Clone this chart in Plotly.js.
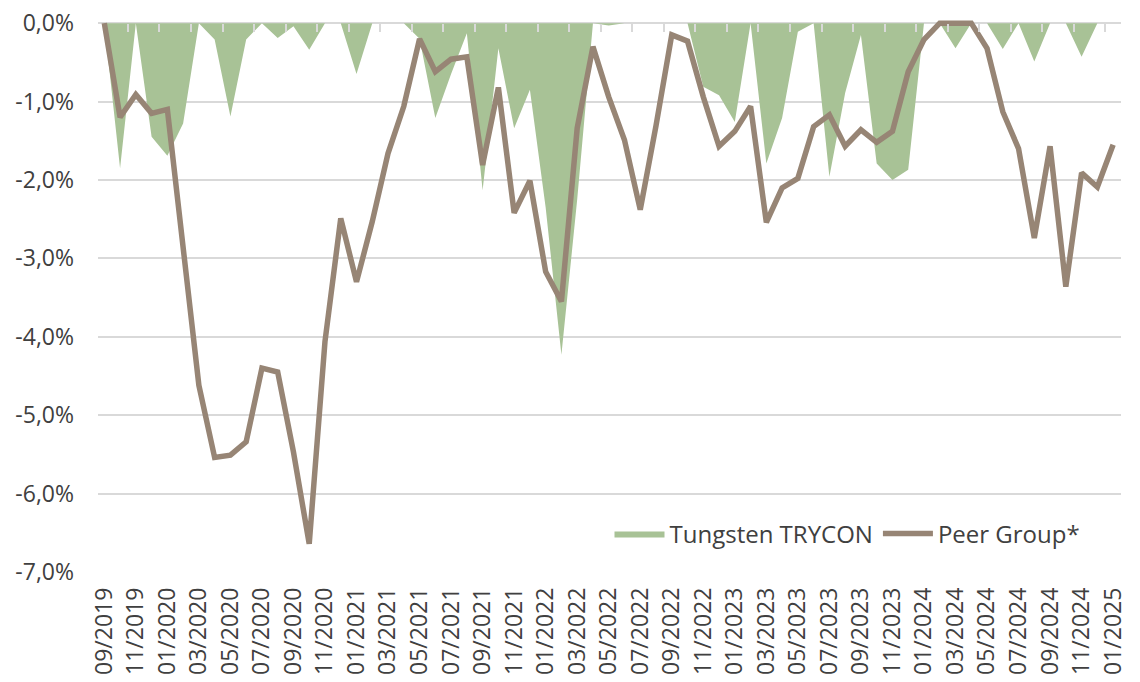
<!DOCTYPE html>
<html>
<head>
<meta charset="utf-8">
<script src="https://cdn.plot.ly/plotly-3.0.1.min.js"></script>
<style>
  html, body { margin: 0; padding: 0; background: #ffffff; }
  #chart { width: 1140px; height: 682px; }
</style>
</head>
<body>
<div id="chart"></div>
<script>
const months = [
  "09/2019","10/2019","11/2019","12/2019",
  "01/2020","02/2020","03/2020","04/2020","05/2020","06/2020","07/2020","08/2020","09/2020","10/2020","11/2020","12/2020",
  "01/2021","02/2021","03/2021","04/2021","05/2021","06/2021","07/2021","08/2021","09/2021","10/2021","11/2021","12/2021",
  "01/2022","02/2022","03/2022","04/2022","05/2022","06/2022","07/2022","08/2022","09/2022","10/2022","11/2022","12/2022",
  "01/2023","02/2023","03/2023","04/2023","05/2023","06/2023","07/2023","08/2023","09/2023","10/2023","11/2023","12/2023",
  "01/2024","02/2024","03/2024","04/2024","05/2024","06/2024","07/2024","08/2024","09/2024","10/2024","11/2024","12/2024",
  "01/2025"
];

// Drawdown in percent
const trycon = [
  0, -1.85, 0, -1.45,
  -1.69, -1.28, 0, -0.21, -1.19, -0.21, 0, -0.19, -0.04, -0.34, 0, 0,
  -0.65, 0, 0, 0, -0.20, -1.21, -0.65, -0.13, -2.13, -0.32, -1.34, -0.85,
  -2.35, -4.23, -2.25, 0, -0.03, 0, 0, 0, 0, 0, -0.81, -0.92,
  -1.26, 0, -1.79, -1.21, -0.11, 0, -1.96, -0.89, -0.15, -1.79, -2.00, -1.87,
  0, 0, -0.32, 0, 0, -0.33, 0, -0.49, 0, 0, -0.43, 0,
  0
];

const peerGroup = [
  0, -1.20, -0.91, -1.15,
  -1.10, -2.85, -4.62, -5.54, -5.51, -5.34, -4.40, -4.45, -5.47, -6.64, -4.06, -2.49,
  -3.30, -2.53, -1.66, -1.06, -0.20, -0.62, -0.46, -0.43, -1.81, -0.82, -2.42, -2.01,
  -3.17, -3.55, -1.34, -0.30, -0.94, -1.49, -2.38, -1.31, -0.15, -0.23, -0.94, -1.57,
  -1.38, -1.06, -2.54, -2.10, -1.98, -1.32, -1.17, -1.57, -1.36, -1.52, -1.38, -0.62,
  -0.21, 0, 0, 0, -0.32, -1.13, -1.60, -2.74, -1.57, -3.36, -1.91, -2.09,
  -1.55
];

const yTickValues = [0, -1, -2, -3, -4, -5, -6, -7];
const yTickLabels = ["0,0%", "-1,0%", "-2,0%", "-3,0%", "-4,0%", "-5,0%", "-6,0%", "-7,0%"];

const idx = months.map((_, i) => i);
const xTickVals = idx.filter(i => i % 2 === 0);
const xTickText = xTickVals.map(i => months[i]);
const sepTicks = xTickVals.map(i => i - 0.5);

const textColor = "#404040";
const gridColor = "#d9d9d9";

const traces = [
  {
    x: idx, y: trycon, name: "Tungsten TRYCON",
    type: "scatter", mode: "lines", fill: "tozeroy",
    fillcolor: "#a8c296", line: {width: 0, color: "#a8c296"},
    hoverinfo: "skip"
  },
  {
    x: idx, y: peerGroup, name: "Peer Group*",
    type: "scatter", mode: "lines",
    line: {width: 5.5, color: "#978575"},
    hoverinfo: "skip"
  },
  {
    x: [], y: [], xaxis: "x2", showlegend: false, hoverinfo: "skip", type: "scatter"
  }
];

const layout = {
  width: 1140, height: 682,
  paper_bgcolor: "#ffffff", plot_bgcolor: "#ffffff",
  margin: {l: 97.7, r: 19.3, t: 20.2, b: 110.2, pad: 0},
  font: {family: "Open Sans, sans-serif", size: 23, color: textColor},
  showlegend: true,
  legend: {
    orientation: "h", x: 0.5, y: 0.11, xanchor: "left", yanchor: "top",
    font: {family: "Open Sans, sans-serif", size: 24, color: textColor},
    bgcolor: "rgba(0,0,0,0)", itemwidth: 50, traceorder: "normal"
  },
  xaxis: {
    type: "linear", range: [-0.4, 64.5], automargin: false,
    tickmode: "array", tickvals: xTickVals, ticktext: xTickText,
    tickangle: -90, ticks: "", showgrid: false, zeroline: false, showline: false,
    ticklabelstandoff: 10,
    tickfont: {family: "Open Sans, sans-serif", size: 23, color: textColor}
  },
  xaxis2: {
    type: "linear", range: [-0.4, 64.5], overlaying: "x", anchor: "free",
    position: 7 / 7.04, side: "top",
    tickmode: "array", tickvals: sepTicks, showticklabels: false,
    ticks: "inside", ticklen: 8, tickwidth: 2, tickcolor: gridColor,
    showgrid: false, zeroline: false, showline: false
  },
  yaxis: {
    range: [-7, 0.04], automargin: false,
    tickmode: "array", tickvals: yTickValues, ticktext: yTickLabels,
    ticks: "", showgrid: true, gridcolor: gridColor, gridwidth: 2,
    zeroline: false, showline: false, ticklabelstandoff: 23,
    tickfont: {family: "Open Sans, sans-serif", size: 23, color: textColor}
  }
};

Plotly.newPlot("chart", traces, layout, {displayModeBar: false, staticPlot: true});
</script>
</body>
</html>
